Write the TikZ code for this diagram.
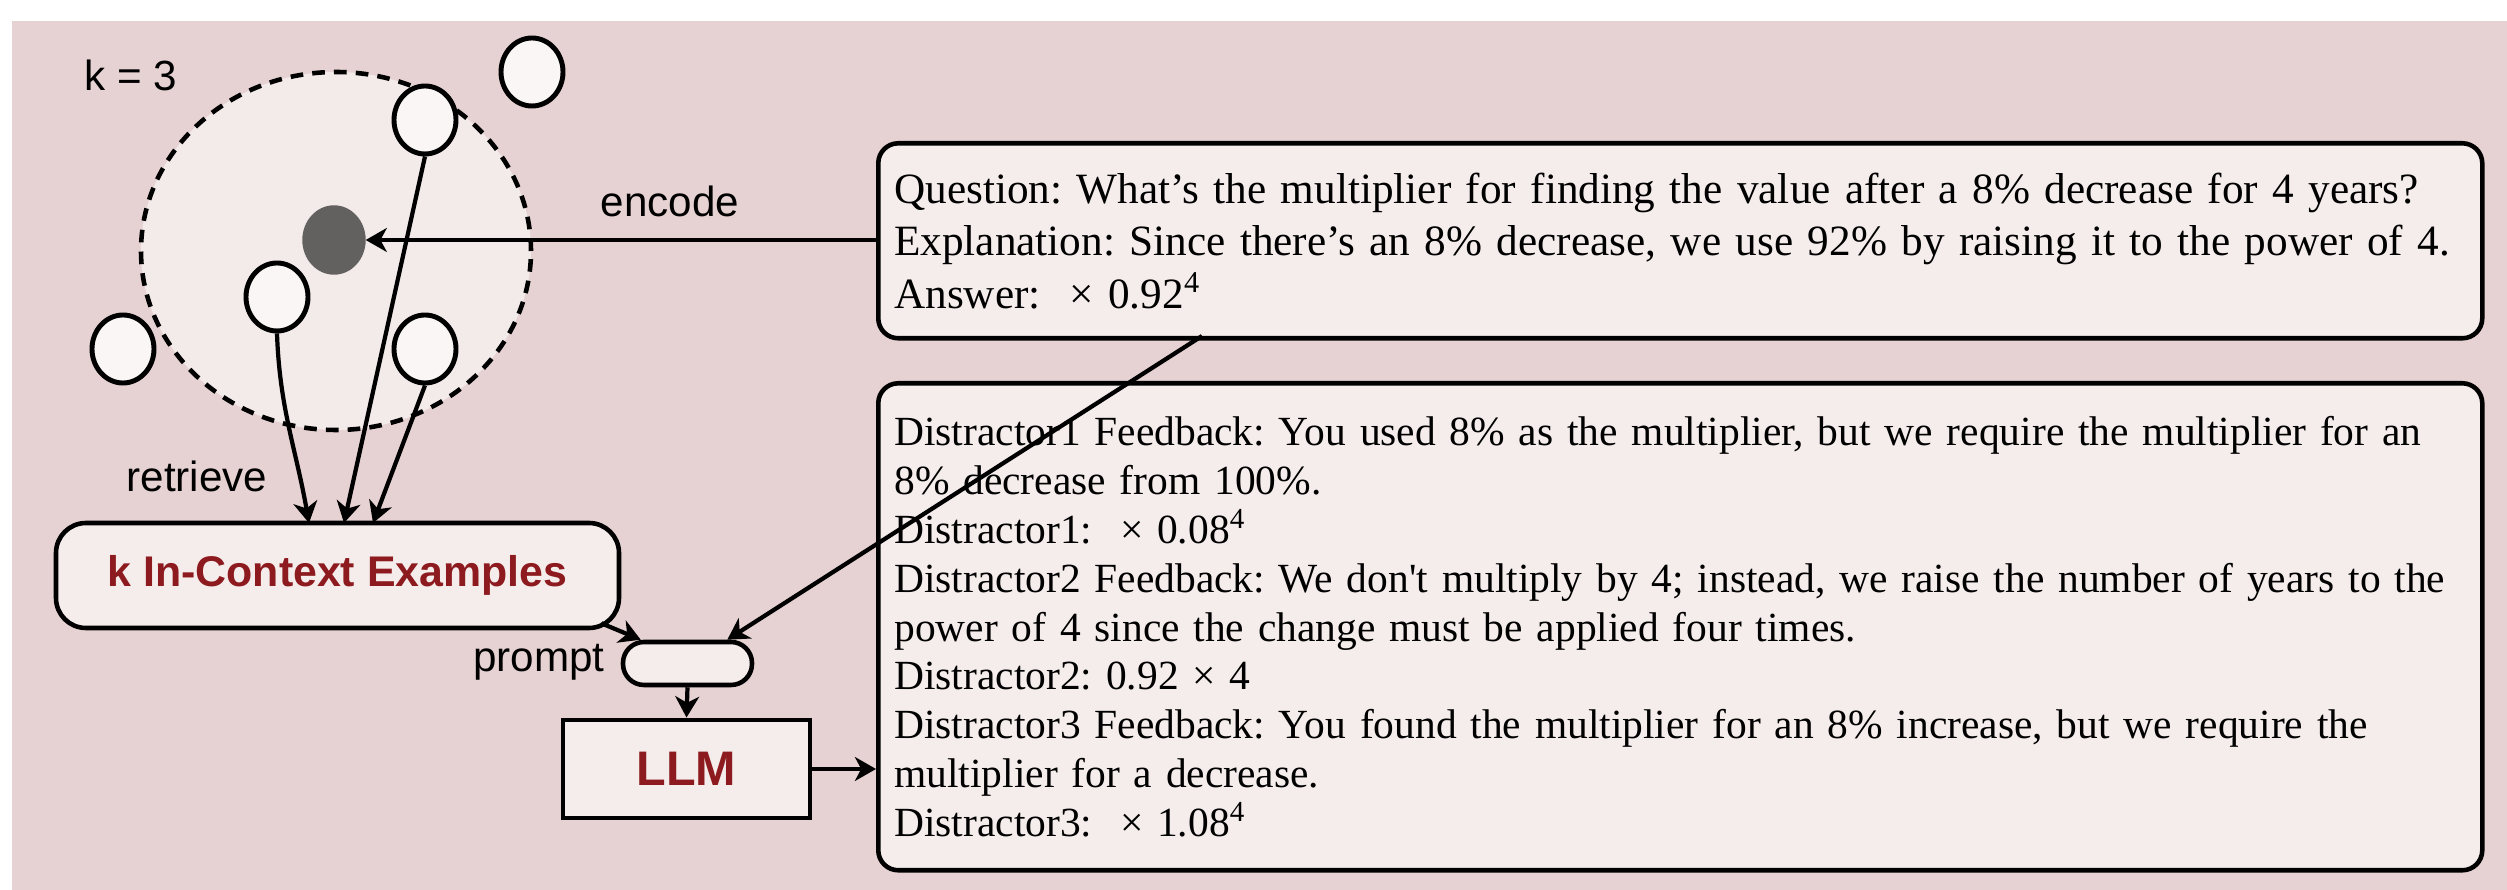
\documentclass[tikz,border=0pt]{standalone}
\usepackage{fontspec}
\setmainfont{Liberation Serif}
\setsansfont{Liberation Sans}
\usetikzlibrary{shapes.geometric,arrows.meta}
\definecolor{bgpink}{RGB}{230,210,210}
\definecolor{boxfill}{RGB}{245,237,236}
\definecolor{ballfill}{RGB}{243,234,234}
\definecolor{dotfill}{RGB}{250,246,246}
\definecolor{darkdot}{RGB}{99,96,96}
\definecolor{llmred}{RGB}{140,26,30}
\frenchspacing

\begin{document}
\begin{tikzpicture}[
  dot/.style={draw, ellipse, line width=1.4pt, fill=dotfill, minimum width=0.62cm, minimum height=0.68cm, inner sep=0pt},
  lab/.style={font=\sffamily\fontsize{12}{14}\selectfont},
  arr/.style={-{Stealth[length=6pt,width=6.8pt,inset=1.8pt]}, line width=1.2pt},
  txtbox/.style={draw, line width=1.3pt, rounded corners=0.2cm, fill=boxfill, anchor=north west,
    inner xsep=0.16cm, text width=15.72cm, align=left}
]
\useasboundingbox (0,0) rectangle (25.07,-8.90);
\fill[bgpink] (0.12,-0.21) rectangle (25.07,-8.90);

% embedding space
\node[draw, ellipse, dash pattern=on 3.6pt off 2.6pt, line width=1.3pt, fill=ballfill,
  minimum width=3.90cm, minimum height=3.58cm] (ball) at (3.36,-2.51) {};
\node[lab] (k) at (1.31,-0.75) {k = 3};
\node[dot] (outT) at (5.32,-0.72) {};
\node[dot] (outL) at (1.23,-3.49) {};
\node[dot] (inT) at (4.25,-1.20) {};
\node[dot] (inL) at (2.77,-2.97) {};
\node[dot] (inR) at (4.25,-3.49) {};
\node[draw, ellipse, fill=darkdot, draw=darkdot, minimum width=0.62cm, minimum height=0.68cm, inner sep=0pt] (query) at (3.34,-2.40) {};

% boxes
\node[txtbox, minimum width=16.04cm, minimum height=1.95cm, font=\fontsize{12.3}{14.9}\selectfont] (question) at (8.76,-1.41) {%
Question: What’s the multiplier for finding the value after a 8\% decrease for 4 years?\\
Explanation: Since there’s an 8\% decrease, we use 92\% by raising it to the power of 4.\\
Answer:\ \ × 0.92\textsuperscript{4}};
\node[txtbox, minimum width=16.04cm, minimum height=4.87cm, font=\fontsize{11.8}{13.9}\selectfont] (distractors) at (8.76,-3.81) {%
Distractor1 Feedback: You used 8\% as the multiplier, but we require the multiplier for an\\
8\% decrease from 100\%.\\
Distractor1:\ \ × 0.08\textsuperscript{4}\\
Distractor2 Feedback: We don\textquotesingle t multiply by 4; instead, we raise the number of years to the\\
power of 4 since the change must be applied four times.\\
Distractor2: 0.92 × 4\\
Distractor3 Feedback: You found the multiplier for an 8\% increase, but we require the\\
multiplier for a decrease.\\
Distractor3:\ \ × 1.08\textsuperscript{4}};

\node[draw, line width=1.3pt, rounded corners=0.3cm, fill=boxfill, minimum width=5.63cm, minimum height=1.05cm,
  text=llmred, font=\sffamily\bfseries\fontsize{12.2}{14}\selectfont] (examples) at (3.375,-5.755) {k In-Context Examples};
\node[draw, line width=1.3pt, rounded corners=0.21cm, fill=boxfill, minimum width=1.29cm, minimum height=0.43cm] (prompt) at (6.875,-6.635) {};
\node[lab, anchor=east] (promptlab) at (6.17,-6.62) {prompt};
\node[draw, line width=1.4pt, fill=boxfill, minimum width=2.47cm, minimum height=0.98cm,
  text=llmred, font=\sffamily\bfseries\fontsize{13.8}{16}\selectfont] (llm) at (6.865,-7.69) {LLM};

% labels
\node[lab] (encode) at (6.70,-2.01) {encode};
\node[lab] (retrieve) at (1.97,-4.76) {retrieve};

% connectors
\coordinate (r1) at (3.09,-5.23);
\coordinate (r2) at (3.44,-5.23);
\coordinate (r3) at (3.73,-5.23);
\coordinate (qfoot) at (12.02,-3.36);
\draw[arr] (query -| question.west) -- (query.east);
\draw[arr] (inL.south) to[out=-88,in=100] (r1);
\draw[arr] (inT.south) -- (r2);
\draw[arr] (inR.south) -- (r3);
\draw[arr] ([xshift=-0.2cm,yshift=0.07cm]examples.south east) -- ([xshift=0.2cm]prompt.north west);
\draw[arr] (qfoot) -- ([xshift=-0.27cm]prompt.north east);
\draw[arr] (prompt.south) -- (llm.north);
\draw[arr] (llm.east) -- (llm.east -| distractors.west);
\end{tikzpicture}
\end{document}
